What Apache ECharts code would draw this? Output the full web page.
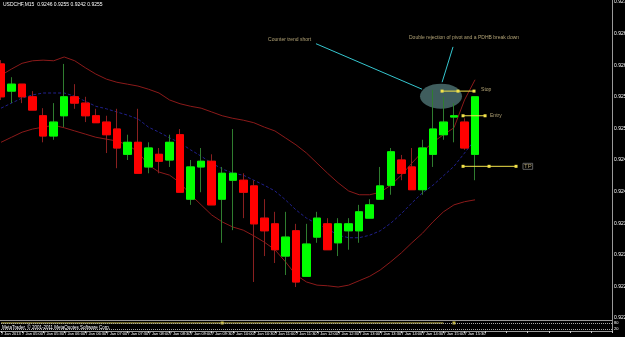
<!DOCTYPE html>
<html>
<head>
<meta charset="utf-8">
<script src="https://cdn.jsdelivr.net/npm/echarts@6/dist/echarts.min.js"></script>
<style>
  html, body { margin: 0; padding: 0; background: #000; }
  #chart { width: 625px; height: 337px; }
</style>
</head>
<body>
<div id="chart"></div>
<script>
// bar labels (M15), only every second one is shown
const barTimes = [
  '7 Jan 2013', '7 Jan 04:45', '7 Jan 05:00', '7 Jan 05:15', '7 Jan 05:30', '7 Jan 05:45', '7 Jan 06:00', '7 Jan 06:15',
  '7 Jan 06:30', '7 Jan 06:45', '7 Jan 07:00', '7 Jan 07:15', '7 Jan 07:30', '7 Jan 07:45', '7 Jan 08:00', '7 Jan 08:15',
  '7 Jan 08:30', '7 Jan 08:45', '7 Jan 09:00', '7 Jan 09:15', '7 Jan 09:30', '7 Jan 09:45', '7 Jan 10:00', '7 Jan 10:15',
  '7 Jan 10:30', '7 Jan 10:45', '7 Jan 11:00', '7 Jan 11:15', '7 Jan 11:30', '7 Jan 11:45', '7 Jan 12:00', '7 Jan 12:15',
  '7 Jan 12:30', '7 Jan 12:45', '7 Jan 13:00', '7 Jan 13:15', '7 Jan 13:30', '7 Jan 13:45', '7 Jan 14:00', '7 Jan 14:15',
  '7 Jan 14:30', '7 Jan 14:45', '7 Jan 15:00', '7 Jan 15:15', '7 Jan 15:30', '7 Jan 15:45',
  '', '', '', '', '', '', '', '', '', '', '', '', ''
];
// open, close, low, high
const candles = [
  [0.92602, 0.92550, 0.92545, 0.92608], [0.92559, 0.92570, 0.92540, 0.92581], [0.92570, 0.92550, 0.92540, 0.92570],
  [0.92550, 0.92529, 0.92529, 0.92559], [0.92520, 0.92488, 0.92478, 0.92532], [0.92488, 0.92510, 0.92482, 0.92540],
  [0.92520, 0.92550, 0.92502, 0.92602], [0.92550, 0.92540, 0.92531, 0.92570], [0.92540, 0.92520, 0.92510, 0.92550],
  [0.92520, 0.92509, 0.92509, 0.92531], [0.92510, 0.92490, 0.92461, 0.92520], [0.92499, 0.92469, 0.92437, 0.92531],
  [0.92459, 0.92478, 0.92450, 0.92490], [0.92478, 0.92429, 0.92429, 0.92531], [0.92439, 0.92469, 0.92429, 0.92478],
  [0.92459, 0.92448, 0.92429, 0.92469], [0.92450, 0.92478, 0.92439, 0.92490], [0.92490, 0.92399, 0.92399, 0.92499],
  [0.92388, 0.92439, 0.92379, 0.92450], [0.92439, 0.92448, 0.92399, 0.92469], [0.92448, 0.92379, 0.92379, 0.92459],
  [0.92388, 0.92429, 0.92319, 0.92439], [0.92418, 0.92429, 0.92339, 0.92499], [0.92418, 0.92399, 0.92358, 0.92429],
  [0.92409, 0.92349, 0.92257, 0.92418], [0.92358, 0.92338, 0.92298, 0.92388], [0.92349, 0.92308, 0.92287, 0.92368],
  [0.92298, 0.92328, 0.92268, 0.92368], [0.92338, 0.92257, 0.92249, 0.92349], [0.92266, 0.92317, 0.92266, 0.92349],
  [0.92328, 0.92358, 0.92319, 0.92368], [0.92349, 0.92308, 0.92308, 0.92358], [0.92319, 0.92349, 0.92298, 0.92358],
  [0.92338, 0.92349, 0.92308, 0.92358], [0.92338, 0.92368, 0.92319, 0.92379], [0.92358, 0.92379, 0.92358, 0.92388],
  [0.92388, 0.92409, 0.92388, 0.92439], [0.92410, 0.92463, 0.92395, 0.92469], [0.92450, 0.92429, 0.92418, 0.92458],
  [0.92439, 0.92403, 0.92403, 0.92469], [0.92403, 0.92469, 0.92395, 0.92482], [0.92459, 0.92499, 0.92439, 0.92561],
  [0.92490, 0.92510, 0.92482, 0.92550], [0.92518, 0.92520, 0.92478, 0.92540], [0.92510, 0.92469, 0.92466, 0.92516],
  [0.92459, 0.92550, 0.92418, 0.92550]
];
// bollinger bands
const upperBand = [
  0.92584, 0.92594, 0.92603, 0.92607, 0.92608, 0.92607, 0.92613, 0.92607, 0.92596, 0.92586,
  0.92578, 0.92573, 0.92570, 0.92567, 0.92562, 0.92556, 0.92545, 0.92539, 0.92535, 0.92532,
  0.92526, 0.92520, 0.92516, 0.92513, 0.92509, 0.92502, 0.92496, 0.92485, 0.92474, 0.92461,
  0.92445, 0.92429, 0.92414, 0.92401, 0.92395, 0.92395, 0.92399, 0.92410, 0.92426, 0.92445,
  0.92463, 0.92478, 0.92490, 0.92501, 0.92545, 0.92577
];
const middleBand = [
  0.92532, 0.92540, 0.92548, 0.92553, 0.92556, 0.92556, 0.92556, 0.92551, 0.92543, 0.92535,
  0.92531, 0.92526, 0.92521, 0.92515, 0.92502, 0.92494, 0.92485, 0.92477, 0.92466, 0.92456,
  0.92445, 0.92436, 0.92429, 0.92426, 0.92418, 0.92410, 0.92401, 0.92387, 0.92371, 0.92358,
  0.92349, 0.92341, 0.92331, 0.92327, 0.92327, 0.92331, 0.92338, 0.92350, 0.92365, 0.92382,
  0.92398, 0.92410, 0.92425, 0.92440, 0.92461, 0.92482
];
const lowerBand = [
  0.92478, 0.92486, 0.92494, 0.92499, 0.92502, 0.92505, 0.92501, 0.92496, 0.92491, 0.92486,
  0.92483, 0.92480, 0.92474, 0.92463, 0.92442, 0.92431, 0.92426, 0.92414, 0.92395, 0.92379,
  0.92363, 0.92352, 0.92344, 0.92339, 0.92330, 0.92320, 0.92308, 0.92289, 0.92268, 0.92257,
  0.92252, 0.92251, 0.92249, 0.92252, 0.92259, 0.92266, 0.92276, 0.92289, 0.92303, 0.92319,
  0.92334, 0.92352, 0.92368, 0.92379, 0.92384, 0.92387
];
const priceTicks = [0.9220, 0.9225, 0.9230, 0.9235, 0.9240, 0.9245, 0.9250, 0.9255, 0.9260, 0.9265, 0.9270];
const bidPrice = 0.9255;
const pivotPrice = 0.9254;
const cyanLevel = 0.9250;
const lowLevel = 0.92233;
// drawn objects: [bar position, price]
const stopLine = [[41.87, 0.92559], [43.38, 0.92559], [44.90, 0.92559]];
const entryLine = [[43.86, 0.92520], [45.95, 0.92520]];
const tpLine = [[43.86, 0.92440], [46.33, 0.92440], [48.89, 0.92440]];
const arrowOne = [[29.90, 0.92634], [39.97, 0.92562]];
const arrowTwo = [[42.91, 0.92629], [41.87, 0.92573]];
const ellipseAt = [41.77, 0.92551];
const notes = [
  ['Counter trend short', 25.35, 0.92641],
  ['Double rejection of pivot and a PDHB break down', 38.73, 0.92643],
  ['Stop', 45.57, 0.92561],
  ['Entry', 46.42, 0.92520]
];
const tpNote = ['TP', 49.55, 0.92440];
// lower window indicator
const signalLine = [
  80, 80, 80, 80, 80, 80, 80, 80, 80, 80, 80, 80, 80, 80, 80, 80, 80, 80, 80, 80, 80, 80,
  80, 80, 80, 80, 80, 80, 80, 80, 80, 80, 80, 80, 80, 80, 80, 80, 80, 80, 80, 80, 80
];
const signalMarks = [[20.5, 80], [42.9, 80]];

const font = 'Liberation Sans, Arial, sans-serif';
const bodies = candles.map(c => [c[0], c[1], Math.min(c[0], c[1]), Math.max(c[0], c[1])]);

let myChart = echarts.init(document.getElementById('chart'));
myChart.setOption({
  backgroundColor: '#000',
  animation: false,
  title: [{
    text: 'USDCHF,M15  0.9246 0.9255 0.9242 0.9255',
    left: 3, top: 2, padding: 0,
    textStyle: { color: '#fff', fontSize: 5, fontWeight: 'normal', fontFamily: font }
  }, {
    text: 'MetaTrader, \u00a9 2001-2011 MetaQuotes Software Corp.',
    left: 2, top: 325, padding: 0,
    textStyle: { color: '#fff', fontSize: 4.5, fontWeight: 'normal', fontFamily: font }
  }],
  grid: [
    { left: 1, right: 13, top: 2, height: 316, containLabel: false, outerBoundsMode: 'none' },
    { left: 1, right: 13, top: 321, height: 10, containLabel: false, outerBoundsMode: 'none' }
  ],
  xAxis: [
    { type: 'category', gridIndex: 0, data: barTimes, boundaryGap: false, show: false },
    { type: 'value', gridIndex: 0, min: 0, max: 58, show: false },
    {
      type: 'category', gridIndex: 1, data: barTimes, boundaryGap: false,
      axisLine: { show: false },
      axisTick: { show: true, interval: 1, length: 2, lineStyle: { color: '#ccc' } },
      axisLabel: { interval: 1, color: '#fff', fontSize: 4, fontFamily: font, align: 'left', margin: 1, hideOverlap: false },
      splitLine: { show: false }
    }
  ],
  yAxis: [{
    type: 'value', gridIndex: 0, position: 'right', min: 0.9220, max: 0.9270, scale: true,
    axisLine: { show: false },
    axisTick: { show: false },
    axisLabel: {
      customValues: priceTicks, color: '#fff', fontSize: 5, fontFamily: font, margin: 2,
      formatter: v => v.toFixed(4)
    },
    splitLine: { show: false }
  }, {
    type: 'value', gridIndex: 1, position: 'right', min: 0, max: 100,
    axisLine: { show: false },
    axisTick: { show: false },
    axisLabel: { customValues: [80, 20], color: '#fff', fontSize: 4, fontFamily: font, margin: 2 },
    splitLine: { show: false }
  }],
  series: [
    {
      type: 'scatter', xAxisIndex: 1, yAxisIndex: 0, z: 1,
      symbol: 'circle', symbolSize: [42, 25], silent: true,
      itemStyle: { color: 'rgba(92,136,136,0.85)' },
      data: [ellipseAt]
    },
    {
      type: 'candlestick', xAxisIndex: 0, yAxisIndex: 0, z: 2, barWidth: 8,
      itemStyle: { color: '#000', color0: '#000', borderColor: '#2f7d2f', borderColor0: '#8a2020', borderWidth: 1 },
      data: candles,
      markLine: {
        symbol: 'none', silent: true, z: 10,
        data: [
          { yAxis: bidPrice, lineStyle: { color: '#7a7a7a', type: 'solid', width: 1 },
            label: { show: true, position: 'end', distance: 1, formatter: bidPrice.toFixed(4), color: '#000',
              backgroundColor: '#e8e8e8', padding: [0, 1], fontSize: 5, fontFamily: font } },
          { yAxis: pivotPrice, lineStyle: { color: '#9a2c9a', type: 'dotted', width: 1 }, label: { show: false } },
          { yAxis: cyanLevel, lineStyle: { color: '#30a8a8', type: 'dotted', width: 1 },
            label: { show: true, position: 'end', distance: 1, formatter: cyanLevel.toFixed(4), color: '#eaffff',
              backgroundColor: '#28b4b4', padding: [0, 1], fontSize: 5, fontFamily: font } },
          { yAxis: lowLevel, lineStyle: { color: '#1c1c78', type: 'dotted', width: 1 }, label: { show: false } }
        ]
      }
    },
    {
      type: 'candlestick', xAxisIndex: 0, yAxisIndex: 0, z: 3, barWidth: 8,
      itemStyle: { color: '#00ff00', color0: '#ff0000', borderColor: '#00ff00', borderColor0: '#ff0000', borderWidth: 1 },
      data: bodies
    },
    {
      type: 'line', xAxisIndex: 0, yAxisIndex: 0, z: 2, data: upperBand, symbol: 'none',
      lineStyle: { color: '#8b1a1a', width: 1 }
    },
    {
      type: 'line', xAxisIndex: 0, yAxisIndex: 0, z: 2, data: middleBand, symbol: 'none',
      lineStyle: { color: '#20208c', width: 1, type: [3, 2] }
    },
    {
      type: 'line', xAxisIndex: 0, yAxisIndex: 0, z: 2, data: lowerBand, symbol: 'none',
      lineStyle: { color: '#8b1a1a', width: 1 }
    },
    {
      type: 'line', xAxisIndex: 1, yAxisIndex: 0, z: 5, data: arrowOne, symbol: 'none',
      lineStyle: { color: '#35c6cf', width: 1 }
    },
    {
      type: 'line', xAxisIndex: 1, yAxisIndex: 0, z: 5, data: arrowTwo, symbol: 'none',
      lineStyle: { color: '#35c6cf', width: 1 }
    },
    ...[stopLine, entryLine, tpLine].map(d => ({
      type: 'line', xAxisIndex: 1, yAxisIndex: 0, z: 6, data: d,
      symbol: 'rect', symbolSize: 3, showSymbol: true,
      itemStyle: { color: '#f2e24a' }, lineStyle: { color: '#f2e24a', width: 1 }
    })),
    {
      type: 'scatter', xAxisIndex: 1, yAxisIndex: 0, z: 7, symbolSize: 0,
      data: notes.map(n => ({ name: n[0], value: [n[1], n[2]] })),
      label: { show: true, position: 'right', distance: 0, formatter: '{b}', color: '#d8c68e', fontSize: 5, fontFamily: font }
    },
    {
      type: 'scatter', xAxisIndex: 1, yAxisIndex: 0, z: 7, symbolSize: 0,
      data: [{ name: tpNote[0], value: [tpNote[1], tpNote[2]] }],
      label: { show: true, position: 'right', distance: 0, formatter: '{b}', color: '#d8c68e', fontSize: 6, fontFamily: font,
        borderColor: '#777', borderWidth: 1, padding: [0, 1] }
    },
    {
      type: 'line', xAxisIndex: 2, yAxisIndex: 1, data: signalLine, symbol: 'none',
      lineStyle: { color: '#d8c84a', width: 1 },
      markLine: {
        symbol: 'none', silent: true, label: { show: false },
        data: [
          { yAxis: 80, lineStyle: { color: '#aaa', type: 'dotted', width: 1 } },
          { yAxis: 20, lineStyle: { color: '#aaa', type: 'dotted', width: 1 } }
        ]
      }
    },
    {
      type: 'scatter', xAxisIndex: 2, yAxisIndex: 1, data: signalMarks,
      symbol: 'rect', symbolSize: 3, itemStyle: { color: '#f2e24a' }
    }
  ],
  graphic: [
    { type: 'line', shape: { x1: 612.5, y1: 0, x2: 612.5, y2: 332 }, style: { stroke: '#9a9a9a', lineWidth: 1 } },
    { type: 'line', shape: { x1: 0, y1: 320.5, x2: 612, y2: 320.5 }, style: { stroke: '#9a9a9a', lineWidth: 1 } },
    { type: 'line', shape: { x1: 0, y1: 331.5, x2: 612, y2: 331.5 }, style: { stroke: '#9a9a9a', lineWidth: 1 } }
  ]
});
</script>
</body>
</html>
